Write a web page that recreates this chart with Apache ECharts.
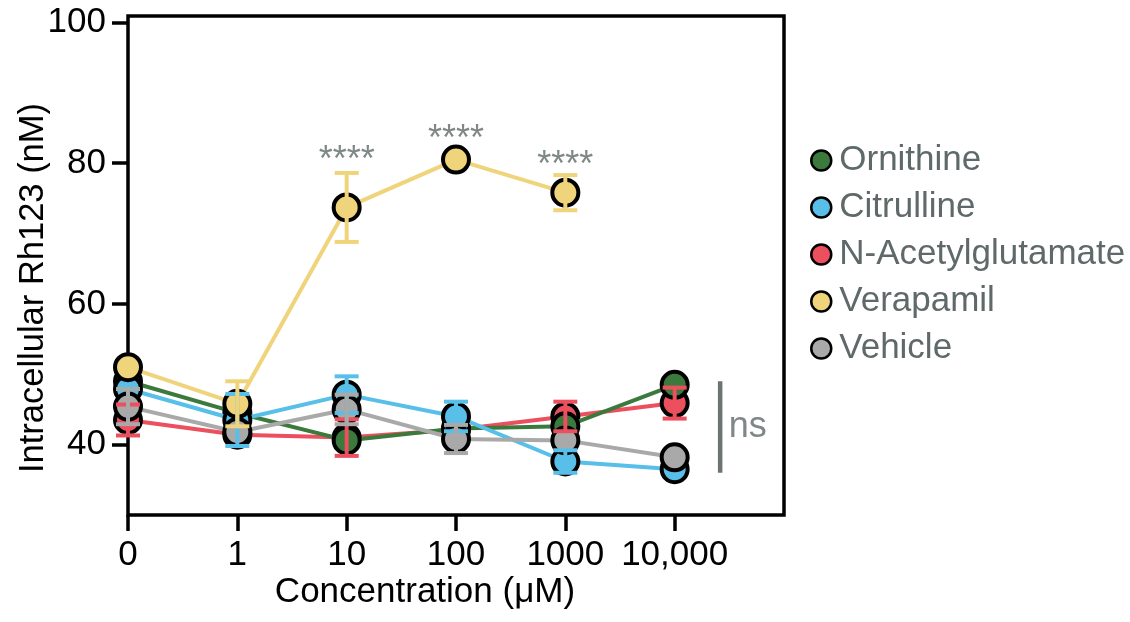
<!DOCTYPE html>
<html>
<head>
<meta charset="utf-8">
<script src="https://cdn.jsdelivr.net/npm/echarts@6/dist/echarts.min.js"></script>
<style>
  html, body { margin: 0; padding: 0; background: #fff; }
  #chart { width: 1130px; height: 622px; }
</style>
</head>
<body>
<div id="chart"></div>
<script>
// categories on the x axis (index 0..5)
var xLabels = ['0', '1', '10', '100', '1000', '10,000'];
var yTicks = [40, 60, 80, 100];

// mean values and error (SEM) per series
var ornithine      = [49.0, 44.5, 40.6, 42.3, 42.6, 48.5];
var ornithineErr   = [0, 0, 0, 0, 0, 0];
var citrulline     = [47.9, 43.5, 47.1, 44.0, 37.6, 36.5];
var citrullineErr  = [0, 3.7, 2.6, 2.1, 1.6, 0];
var nag            = [43.5, 41.4, 41.0, 42.1, 44.0, 45.9];
var nagErr         = [2.2, 0, 2.6, 0, 2.1, 2.2];
var verapamil      = [51.0, 45.8, 73.7, 80.5, 75.8, null];
var verapamilErr   = [0, 3.2, 4.9, 0, 2.5, 0];
var vehicle        = [45.4, 41.8, 45.0, 40.8, 40.6, 38.2];
var vehicleErr     = [2.5, 0, 2.1, 2.0, 0, 0];

// significance marks above verapamil
var starX = [2, 3, 4];
var starY = [81.6, 84.6, 80.9];

// "ns" bracket next to the last column
var nsX = 5.416;
var nsRange = [36.0, 49.0];

var legendNames = ['Ornithine', 'Citrulline', 'N-Acetylglutamate', 'Verapamil', 'Vehicle'];

// draw order: bottom -> top
var groups = [
    {name: 'N-Acetylglutamate', values: nag, err: nagErr, color: '#ec4f5d'},
    {name: 'Ornithine', values: ornithine, err: ornithineErr, color: '#3b7a3c'},
    {name: 'Citrulline', values: citrulline, err: citrullineErr, color: '#58bfe9'},
    {name: 'Vehicle', values: vehicle, err: vehicleErr, color: '#a9a9a9'},
    {name: 'Verapamil', values: verapamil, err: verapamilErr, color: '#efd47b'}
];

var textGray = '#5f6969';
var font = '"Liberation Sans", Arial, Helvetica, sans-serif';

function toPoints(values) {
    var out = [];
    values.forEach(function (v, i) {
        if (v !== null) out.push([i, v]);
    });
    return out;
}

function toErrors(values, err) {
    var out = [];
    values.forEach(function (v, i) {
        if (v !== null && err[i] > 0) out.push([i, v, err[i]]);
    });
    return out;
}

var series = [];
groups.forEach(function (g, k) {
    series.push({
        name: g.name,
        type: 'line',
        z: 2 + k,
        data: toPoints(g.values),
        symbol: 'circle',
        symbolSize: 26,
        lineStyle: {color: g.color, width: 4},
        itemStyle: {color: g.color, borderColor: '#000', borderWidth: 4},
        emphasis: {disabled: true},
        animation: false
    });
});
groups.forEach(function (g, k) {
    series.push({
        name: g.name + ' err',
        type: 'custom',
        z: 20 + k,
        data: toErrors(g.values, g.err),
        renderItem: function (params, api) {
            var x = api.value(0), y = api.value(1), e = api.value(2);
            var hi = api.coord([x, y + e]);
            var lo = api.coord([x, y - e]);
            var hw = 12;
            var st = {stroke: g.color, lineWidth: 4, fill: null};
            return {
                type: 'group',
                children: [
                    {type: 'line', shape: {x1: hi[0], y1: hi[1], x2: lo[0], y2: lo[1]}, style: st},
                    {type: 'line', shape: {x1: hi[0] - hw, y1: hi[1], x2: hi[0] + hw, y2: hi[1]}, style: st},
                    {type: 'line', shape: {x1: lo[0] - hw, y1: lo[1], x2: lo[0] + hw, y2: lo[1]}, style: st}
                ]
            };
        },
        animation: false
    });
});

// stars
series.push({
    type: 'scatter',
    z: 30,
    symbolSize: 1,
    itemStyle: {color: 'rgba(0,0,0,0)'},
    data: starX.map(function (x, i) { return [x, starY[i]]; }),
    label: {
        show: true,
        position: 'inside',
        formatter: '****',
        fontFamily: font,
        fontSize: 36,
        color: textGray,
        offset: [0, 9]
    },
    silent: true,
    animation: false
});

// ns bracket
series.push({
    type: 'line',
    z: 30,
    data: [[nsX, nsRange[0]], [nsX, nsRange[1]]],
    symbol: 'none',
    lineStyle: {color: '#6b7373', width: 4.5},
    silent: true,
    animation: false
});
series.push({
    type: 'scatter',
    z: 30,
    symbolSize: 1,
    itemStyle: {color: 'rgba(0,0,0,0)'},
    data: [[nsX, (nsRange[0] + nsRange[1]) / 2]],
    label: {
        show: true,
        position: 'right',
        distance: 8,
        formatter: 'ns',
        fontFamily: font,
        fontSize: 36,
        color: textGray
    },
    silent: true,
    animation: false
});

var chart = echarts.init(document.getElementById('chart'), null, {renderer: 'canvas'});
chart.setOption({
    backgroundColor: '#fff',
    animation: false,
    grid: {
        left: 128, right: 346, top: 16, bottom: 107,
        show: true, borderColor: '#000', borderWidth: 3.5
    },
    xAxis: {
        type: 'value',
        min: 0, max: 6, interval: 1,
        axisLine: {show: false},
        splitLine: {show: false},
        axisTick: {
            show: true, inside: false, length: 16,
            customValues: [0, 1, 2, 3, 4, 5],
            lineStyle: {color: '#000', width: 3.5}
        },
        axisLabel: {
            customValues: [0, 1, 2, 3, 4, 5],
            margin: 23,
            fontFamily: font, fontSize: 35, color: '#000',
            formatter: function (v) { return xLabels[v]; }
        }
    },
    yAxis: {
        type: 'value',
        min: 30, max: 100.9,
        axisLine: {show: false},
        splitLine: {show: false},
        axisTick: {
            show: true, inside: false, length: 16,
            customValues: yTicks,
            lineStyle: {color: '#000', width: 3.5}
        },
        axisLabel: {
            customValues: yTicks,
            margin: 22,
            fontFamily: font, fontSize: 35, color: '#000'
        }
    },
    legend: {
        orient: 'vertical',
        left: 805, top: 138,
        data: legendNames,
        icon: 'circle',
        itemWidth: 26, itemHeight: 20,
        itemGap: 12,
        itemStyle: {borderColor: '#000', borderWidth: 2.5},
        textStyle: {fontFamily: font, fontSize: 35, lineHeight: 35, color: textGray},
        selectedMode: false
    },
    graphic: [
        {
            type: 'text', x: 425, y: 592,
            style: {
                text: 'Concentration (μM)', fontFamily: font, fontSize: 35,
                fill: '#000', textAlign: 'center', textVerticalAlign: 'middle'
            }
        },
        {
            type: 'text', x: 33, y: 288, rotation: Math.PI / 2,
            style: {
                text: 'Intracellular Rh123 (nM)', fontFamily: font, fontSize: 34.5,
                fill: '#000', textAlign: 'center', textVerticalAlign: 'middle'
            }
        }
    ],
    series: series
});
</script>
</body>
</html>
